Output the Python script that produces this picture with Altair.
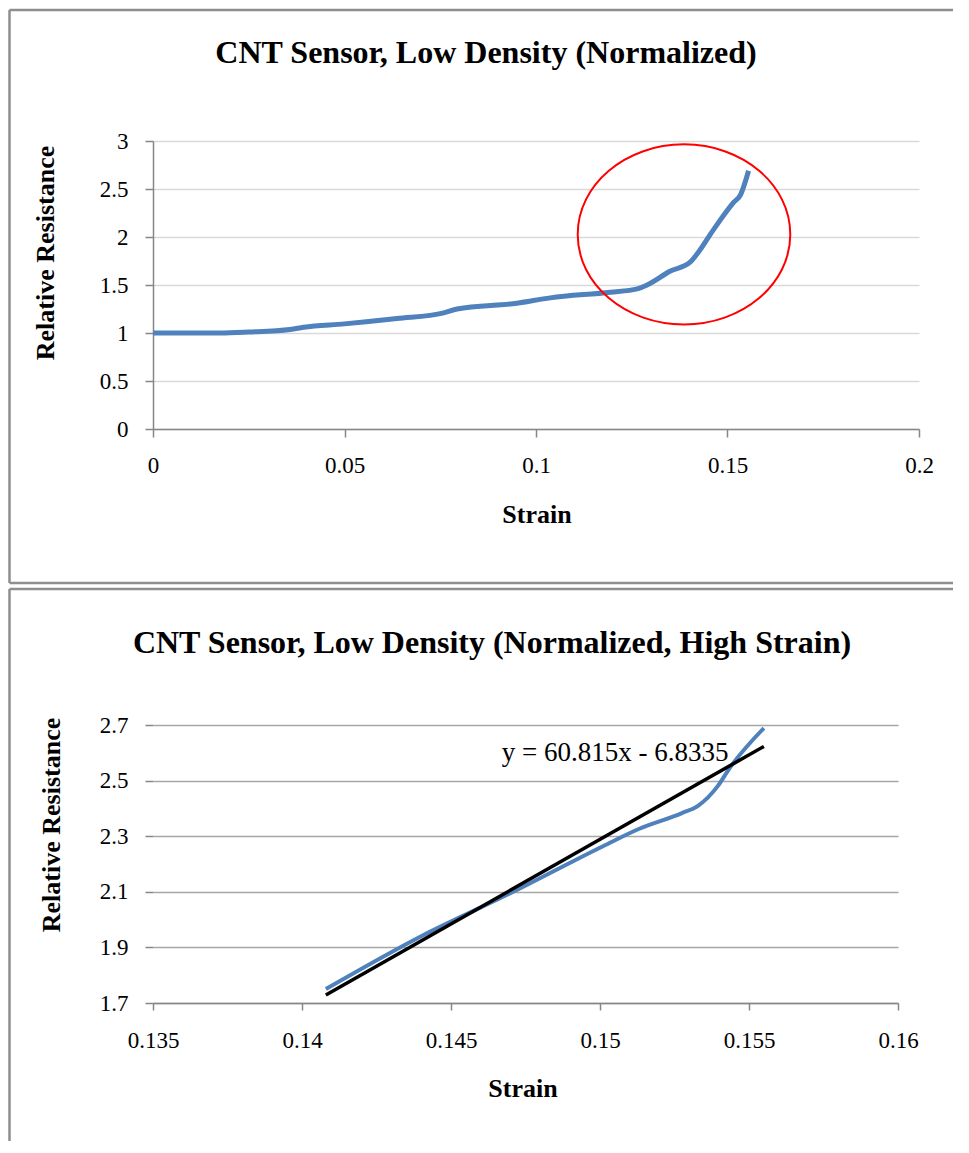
import altair as alt
import pandas as pd

# ---------------- data ----------------
# Top chart: full strain range
strain_full = [0.0, 0.010, 0.0176, 0.025, 0.0358, 0.0393, 0.050, 0.0637, 0.0759,
               0.0794, 0.095, 0.1037, 0.1194, 0.1264, 0.129, 0.1351, 0.1403,
               0.142, 0.1464, 0.1516, 0.1534, 0.1555]
res_full = [1.0, 1.0, 1.0, 1.01, 1.036, 1.06, 1.095, 1.15, 1.21,
            1.25, 1.31, 1.366, 1.425, 1.46, 1.50, 1.645, 1.74,
            1.82, 2.08, 2.36, 2.44, 2.69]

# Bottom chart: high strain segment
strain_high = [0.1408, 0.1440, 0.1469, 0.1501, 0.1513, 0.15275, 0.1533,
               0.15395, 0.15435, 0.1555]
res_high = [1.75, 1.94, 2.09, 2.264, 2.326, 2.383, 2.41, 2.48, 2.545, 2.689]

# Linear trendline y = 60.815x - 6.8335 (end points)
trend_strain = [0.1408, 0.1555]
trend_res = [1.729, 2.623]

x_ticks_top = [0, 0.05, 0.1, 0.15, 0.2]
y_ticks_top = [0, 0.5, 1, 1.5, 2, 2.5, 3]
x_ticks_bot = [0.135, 0.14, 0.145, 0.15, 0.155, 0.16]
y_ticks_bot = [1.7, 1.9, 2.1, 2.3, 2.5, 2.7]

title_top = "CNT Sensor, Low Density (Normalized)"
title_bot = "CNT Sensor, Low Density (Normalized, High Strain)"
y_title = "Relative Resistance"
x_title = "Strain"
trend_label = "y = 60.815x - 6.8335"

# ---------------- styles ----------------
FONT = "Liberation Serif"
BLUE = "#4F81BD"
AXIS_GRAY = "#868686"
FRAME_GRAY = "#8E8E8E"
TITLE_SIZE = 32
LABEL_SIZE = 23
AXTITLE_SIZE = 26
TREND_SIZE = 27

df_full = pd.DataFrame({"strain": strain_full, "res": res_full})
df_high = pd.DataFrame({"strain": strain_high, "res": res_high})
df_trend = pd.DataFrame({"strain": trend_strain, "res": trend_res})
one = pd.DataFrame({"k": [0]})

ELLIPSE = "M -1 0 A 1 0.847 0 1 1 1 0 A 1 0.847 0 1 1 -1 0 Z"


def hrule(x1, x2, y):
    return alt.Chart(one).mark_rule(color=FRAME_GRAY, strokeWidth=2.5).encode(
        x=alt.value(x1), x2=alt.value(x2), y=alt.value(y))


def vrule(x, y1, y2):
    return alt.Chart(one).mark_rule(color=FRAME_GRAY, strokeWidth=2.5).encode(
        x=alt.value(x), y=alt.value(y1), y2=alt.value(y2))


def text(t, x, y, size, bold=True, angle=0, align="center"):
    kw = dict(text=t, font=FONT, fontSize=size, color="black",
              fontWeight="bold" if bold else "normal", align=align,
              baseline="middle")
    if angle:
        kw["angle"] = angle
    return alt.Chart(one).mark_text(**kw).encode(x=alt.value(x), y=alt.value(y))


def xaxis(values, tick, pad):
    return alt.Axis(values=values, format="~g", title=None, grid=False,
                    domainColor=AXIS_GRAY, domainWidth=1.5, tickColor=AXIS_GRAY,
                    tickWidth=1.5, tickSize=tick, labelFont=FONT,
                    labelFontSize=LABEL_SIZE, labelColor="black",
                    labelPadding=pad, labelFlush=False, labelOverlap=False)


def yaxis(values, grid_color, domain, pad):
    return alt.Axis(values=values, format="~g", title=None, grid=True,
                    gridColor=grid_color, gridWidth=1.5, domain=domain,
                    domainColor=AXIS_GRAY, domainWidth=1.5, tickColor=AXIS_GRAY,
                    tickWidth=1.5, tickSize=8, labelFont=FONT,
                    labelFontSize=LABEL_SIZE, labelColor="black",
                    labelPadding=pad, labelOverlap=False)


# ---------------- top chart ----------------
W1, H1 = 766, 288
line_top = alt.Chart(df_full).mark_line(
    color=BLUE, strokeWidth=5, interpolate="monotone").encode(
    x=alt.X("strain:Q", scale=alt.Scale(domain=[0, 0.2], nice=False, zero=False),
            axis=xaxis(x_ticks_top, 8, 17)),
    y=alt.Y("res:Q", scale=alt.Scale(domain=[0, 3], nice=False, zero=False),
            axis=yaxis(y_ticks_top, "#D9D9D9", True, 17)),
)
ellipse = alt.Chart(one).mark_point(
    shape=ELLIPSE, size=45198, filled=False, color="#FF0000", strokeWidth=2,
    opacity=1).encode(x=alt.datum(0.13864), y=alt.datum(2.027))

top = alt.layer(
    line_top, ellipse,
    text(title_top, 333, -88, TITLE_SIZE),
    text(y_title, -107, 112, AXTITLE_SIZE, angle=270),
    text(x_title, 384, 374, AXTITLE_SIZE),
    hrule(-143.5, 800, -131),
    vrule(-143.5, -131, 442),
    hrule(-143.5, 800, 442),
).properties(width=W1, height=H1)

# ---------------- bottom chart ----------------
W2, H2 = 745, 278
xs = alt.Scale(domain=[0.135, 0.16], nice=False, zero=False)
ys = alt.Scale(domain=[1.7, 2.7], nice=False, zero=False)
line_bot = alt.Chart(df_high).mark_line(
    color=BLUE, strokeWidth=4, interpolate="monotone").encode(
    x=alt.X("strain:Q", scale=xs, axis=xaxis(x_ticks_bot, 7, 19)),
    y=alt.Y("res:Q", scale=ys, axis=yaxis(y_ticks_bot, "#A6A6A6", False, 17)),
)
trend = alt.Chart(df_trend).mark_line(color="black", strokeWidth=3.5).encode(
    x="strain:Q", y="res:Q")
trend_text = alt.Chart(one).mark_text(
    text=trend_label, font=FONT, fontSize=TREND_SIZE, color="black",
    align="left", baseline="middle").encode(
    x=alt.datum(0.1467), y=alt.datum(2.60))

bottom = alt.layer(
    line_bot, trend, trend_text,
    text(title_bot, 339, -82, TITLE_SIZE),
    text(y_title, -101, 100, AXTITLE_SIZE, angle=270),
    text(x_title, 370, 364, AXTITLE_SIZE),
    hrule(-143.5, 800, -136),
    vrule(-143.5, -136, 416),
).properties(width=W2, height=H2)

chart = alt.vconcat(top, bottom, spacing=2).properties(padding=0).configure_view(
    strokeWidth=0)

chart.save("out.html", embed_options={"renderer": "svg", "actions": False})
